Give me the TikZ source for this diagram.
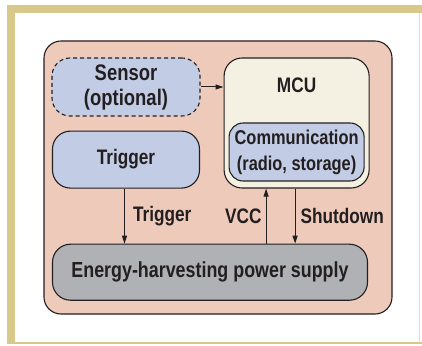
\documentclass[tikz,border=0pt]{standalone}
\usepackage{fontspec}
\newfontfamily\diagfont{Liberation Sans}[FakeStretch=0.82]
\usetikzlibrary{positioning,calc,arrows.meta}
\definecolor{framecol}{HTML}{D8C98A}
\definecolor{boardcol}{HTML}{EECABB}
\definecolor{bluecol}{HTML}{C2CCE4}
\definecolor{mcucol}{HTML}{F5F1E2}
\definecolor{pwrcol}{HTML}{B0B1B4}
\definecolor{inkcol}{HTML}{231F20}
\begin{document}
\begin{tikzpicture}[x=1pt,y=1pt,
  box/.style={draw=inkcol,line width=1.1pt,rounded corners=18pt,inner sep=0pt,align=center,text=inkcol,
    font=\diagfont\bfseries\fontsize{21}{25}\selectfont},
  lbl/.style={text=inkcol,inner sep=0pt,font=\diagfont\bfseries\fontsize{21}{25}\selectfont},
  flow/.style={draw=inkcol,line width=1pt,-{Triangle[length=8pt,width=5pt]}}]
\useasboundingbox (0,0) rectangle (422,345);
% frame
\fill[framecol] (7,1) rectangle (15,340);
\fill[framecol] (7,332) rectangle (422,340);
\fill[framecol] (7,1) rectangle (422,3);
\fill[framecol!60] (418.5,3) rectangle (419.5,332);

\node[box,fill=boardcol,rounded corners=17pt,minimum width=348pt,minimum height=273pt] (board) at (218,167.5) {};
\node[box,dashed,dash pattern=on 4pt off 3pt,fill=bluecol,minimum width=148pt,minimum height=58pt,
  font=\diagfont\bfseries\fontsize{22.5}{25}\selectfont] (sensor) at (126,258) {Sensor\\(optional)};
\node[box,fill=bluecol,minimum width=147pt,minimum height=57pt,below=14pt of sensor] (trig) {Trigger};
\node[box,fill=mcucol,minimum width=145pt,minimum height=130pt,right=23pt of sensor.north east,anchor=north west] (mcu) {};
\node[lbl,below=20pt of mcu.north] (mcutext) {MCU};
\node[box,fill=bluecol,rounded corners=14pt,minimum width=135pt,minimum height=58pt,above=7pt of mcu.south,
  font=\diagfont\bfseries\fontsize{20}{26}\selectfont] (comm) {Communication\\(radio, storage)};
\node[box,fill=pwrcol,minimum width=315pt,minimum height=56pt,below=55pt of trig.south west,anchor=north west,
  font=\diagfont\bfseries\fontsize{21.8}{25}\selectfont] (pwr) {Energy-harvesting power supply};

% connectors
\draw[flow] (sensor.east) -- (sensor.east -| mcu.west);
\draw[flow] ([xshift=-1.5pt]trig.south) -- ([xshift=-1.5pt]trig.south |- pwr.north)
  node[lbl,midway,right=8pt] (trigtext) {Trigger};
\draw[flow] ([xshift=-30.5pt]mcu.south |- pwr.north) -- ([xshift=-30.5pt]mcu.south)
  node[lbl,midway,left=4pt] (vcctext) {VCC};
\draw[flow] ([xshift=-1.5pt]mcu.south) -- ([xshift=-1.5pt]mcu.south |- pwr.north)
  node[lbl,midway,right=5pt] (shuttext) {Shutdown};
\end{tikzpicture}
\end{document}
